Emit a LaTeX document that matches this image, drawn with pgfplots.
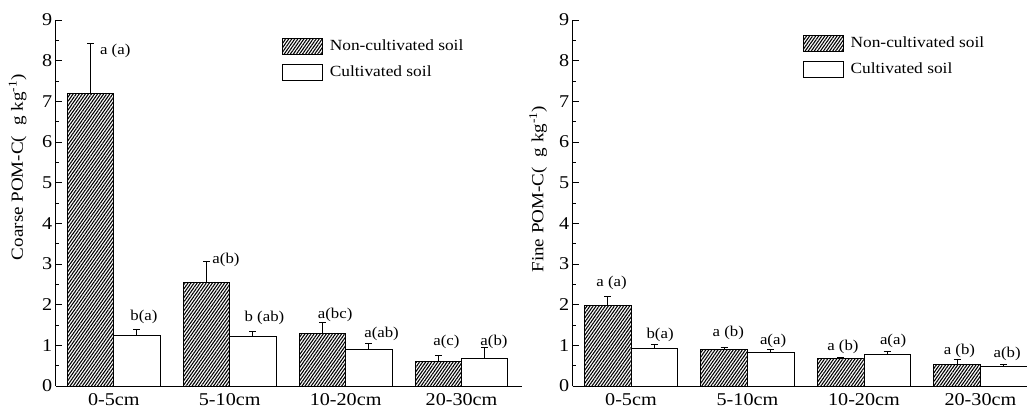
\documentclass[border=0pt]{standalone}
\usepackage{fontspec}
\setmainfont{Liberation Serif}[FakeStretch=1.12]
\usepackage{pgfplots}
\pgfplotsset{compat=1.18}
\usetikzlibrary{patterns.meta}

\pgfplotsset{
 mybar/.style={
  ybar=0pt, bar width=0.4,
  scale only axis, height=366pt,
  ymin=0, ymax=9, ytick={0,...,9}, minor y tick num=1,
  axis lines=left, axis line style={-, line width=0.8pt},
  tick align=inside, major tick length=6pt, minor tick length=3pt,
  tick style={black, line width=0.8pt},
  xtick={0,1,2,3}, xticklabels={0-5cm,5-10cm,10-20cm,20-30cm},
  x tick style={draw=none},
  ticklabel style={font=\fontsize{18}{20}\selectfont},
  xticklabel style={yshift=-4pt},
  /pgf/number format/assume math mode=true,
  ylabel style={font=\fontsize{17}{19}\selectfont, anchor=center},
  legend image code/.code={\draw[#1] (0pt,-8pt) rectangle (40pt,8pt); \path (45pt,0pt);},
  legend style={draw=none, fill=none, font=\fontsize{15.5}{17}\selectfont, row sep=9pt, inner sep=0pt, anchor=north west, legend cell align=left},
  error bars/y dir=plus, error bars/y explicit,
  error bars/error mark=|,
  error bars/error mark options={mark size=3.5pt, line width=1pt, black, draw=black},
  error bars/error bar style={line width=0.9pt, black},
  enlarge x limits=false,
  clip=false,
 },
 nc/.style={draw=black, line width=0.8pt, pattern={Lines[angle=55,distance=2.5pt,line width=1.1pt]}, pattern color=black},
 cu/.style={draw=black, line width=0.8pt, fill=white},
}
\tikzset{lab/.style={font=\fontsize{15}{17}\selectfont, inner sep=0pt}}

\begin{document}
\begin{tikzpicture}
\begin{axis}[mybar, at={(55.8pt,26pt)}, anchor=south west, width=466pt,
  xmin=-0.5, xmax=3.52,
  ylabel={Coarse POM-C(\hspace{0.6em}g kg\textsuperscript{-1})},
  ylabel style={at={(axis description cs:-0.082,0.598)}},
  legend style={at={(axis description cs:0.485,0.952)}}]
\addplot[nc] coordinates {(0,7.20) +- (0,1.21) (1,2.54) +- (0,0.51) (2,1.30) +- (0,0.26) (3,0.61) +- (0,0.14)};
\addplot[cu] coordinates {(0,1.25) +- (0,0.14) (1,1.21) +- (0,0.14) (2,0.89) +- (0,0.16) (3,0.67) +- (0,0.27)};
\legend{Non-cultivated soil, Cultivated soil}
\node[lab, anchor=west] at (axis cs:-0.12,8.24) {a (a)};
\node[lab, anchor=west] at (axis cs:0.85,3.10) {a(b)};
\node[lab] at (axis cs:0.26,1.70) {b(a)};
\node[lab] at (axis cs:1.30,1.67) {b (ab)};
\node[lab] at (axis cs:1.91,1.75) {a(bc)};
\node[lab] at (axis cs:2.31,1.27) {a(ab)};
\node[lab] at (axis cs:2.87,1.09) {a(c)};
\node[lab] at (axis cs:3.28,1.09) {a(b)};
\end{axis}
\begin{axis}[mybar, at={(572.7pt,26pt)}, anchor=south west, width=454.3pt,
  xmin=-0.5, xmax=3.4,
  ylabel={Fine POM-C(\hspace{0.6em}g kg\textsuperscript{-1})},
  ylabel style={at={(axis description cs:-0.076,0.538)}},
  legend style={at={(axis description cs:0.506,0.96)}}]
\addplot[nc] coordinates {(0,1.97) +- (0,0.24) (1,0.89) +- (0,0.05) (2,0.67) +- (0,0.03) (3,0.54) +- (0,0.10)};
\addplot[cu] coordinates {(0,0.92) +- (0,0.09) (1,0.82) +- (0,0.07) (2,0.78) +- (0,0.06) (3,0.47) +- (0,0.07)};
\legend{Non-cultivated soil, Cultivated soil}
\node[lab] at (axis cs:-0.166,2.53) {a (a)};
\node[lab] at (axis cs:0.25,1.25) {b(a)};
\node[lab] at (axis cs:0.835,1.30) {a (b)};
\node[lab] at (axis cs:1.22,1.11) {a(a)};
\node[lab] at (axis cs:1.82,0.97) {a (b)};
\node[lab] at (axis cs:2.25,1.11) {a(a)};
\node[lab] at (axis cs:2.82,0.87) {a (b)};
\node[lab] at (axis cs:3.23,0.79) {a(b)};
\end{axis}
\pgfresetboundingbox
\path[use as bounding box] (0,0) rectangle (1027pt,412pt);
\end{tikzpicture}
\end{document}
